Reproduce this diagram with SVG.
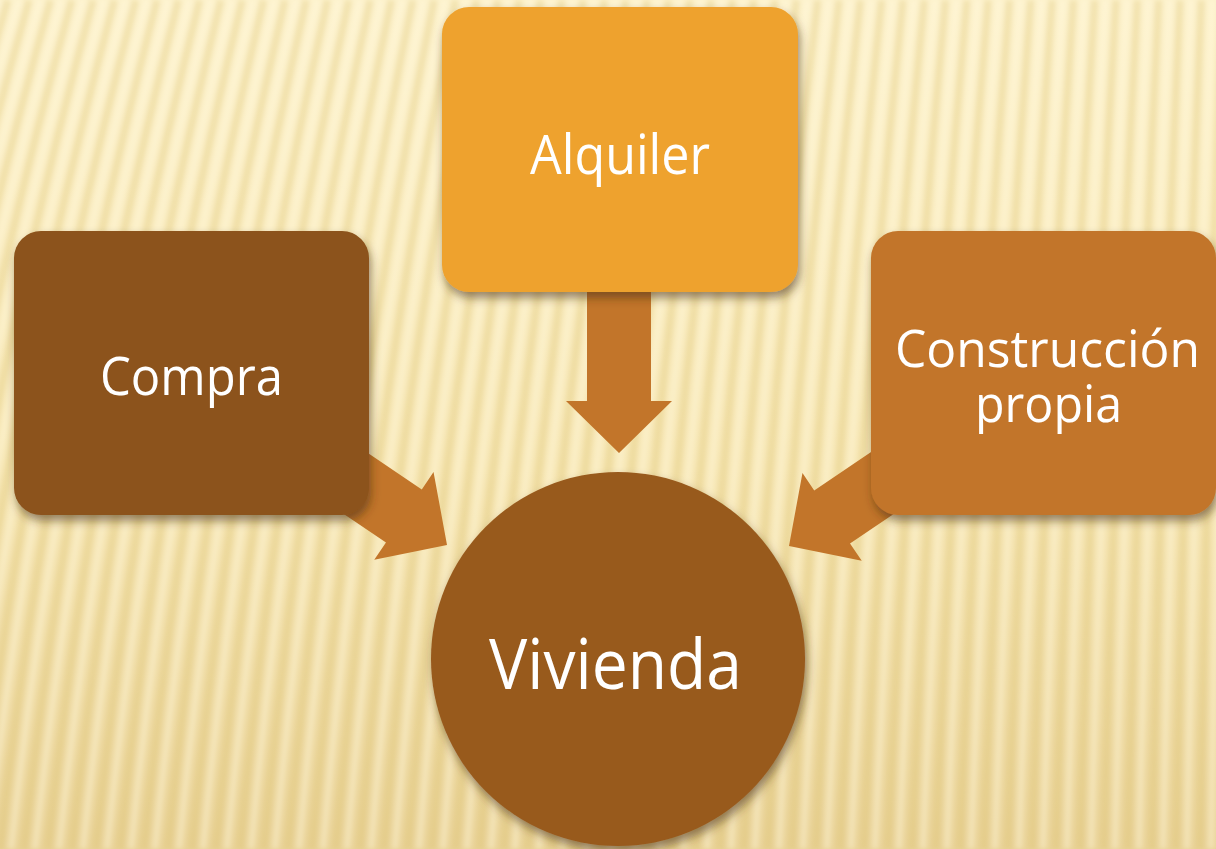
<svg xmlns="http://www.w3.org/2000/svg" xmlns:xlink="http://www.w3.org/1999/xlink" width="1216" height="849" viewBox="0 0 1216 849">
<defs>
<linearGradient id="bg" x1="0" y1="0" x2="0" y2="1">
<stop offset="0" stop-color="#FDF2CB"/>
<stop offset="0.55" stop-color="#F7E7B4"/>
<stop offset="1" stop-color="#E9D296"/>
</linearGradient>
<filter id="blur" x="-5%" y="-5%" width="110%" height="110%"><feGaussianBlur stdDeviation="2.6"/></filter>
<filter id="shadow" x="-10%" y="-10%" width="125%" height="130%">
<feDropShadow dx="2" dy="6" stdDeviation="5" flood-color="#4a3008" flood-opacity="0.55"/>
</filter>
<path id="stripes" d="M-13.5 0Q-138.5 424-192 849M7.8 0Q-115.3 424-168 849M29.1 0Q-92.1 424-144 849M50.4 0Q-68.9 424-120 849M71.8 0Q-45.7 424-96 849M93.1 0Q-22.5 424-72 849M114.4 0Q0.7 424-48 849M135.7 0Q23.9 424-24 849M157 0Q47.1 424 0 849M178.3 0Q70.3 424 24 849M199.6 0Q93.5 424 48 849M220.9 0Q116.7 424 72 849M242.2 0Q139.9 424 96 849M263.6 0Q163.1 424 120 849M284.9 0Q186.3 424 144 849M306.2 0Q209.5 424 168 849M327.5 0Q232.7 424 192 849M348.8 0Q255.9 424 216 849M370.1 0Q279.1 424 240 849M391.4 0Q302.3 424 264 849M412.7 0Q325.5 424 288 849M434.1 0Q348.6 424 312 849M455.4 0Q371.8 424 336 849M476.7 0Q395 424 360 849M498 0Q418.2 424 384 849M519.3 0Q441.4 424 408 849M540.6 0Q464.6 424 432 849M561.9 0Q487.8 424 456 849M583.2 0Q511 424 480 849M604.6 0Q534.2 424 504 849M625.9 0Q557.4 424 528 849M647.2 0Q580.6 424 552 849M668.5 0Q603.8 424 576 849M689.8 0Q627 424 600 849M711.1 0Q650.2 424 624 849M732.4 0Q673.4 424 648 849M753.7 0Q696.6 424 672 849M775 0Q719.8 424 696 849M796.4 0Q743 424 720 849M817.7 0Q766.2 424 744 849M839 0Q789.4 424 768 849M860.3 0Q812.6 424 792 849M881.6 0Q835.8 424 816 849M902.9 0Q859 424 840 849M924.2 0Q882.2 424 864 849M945.5 0Q905.4 424 888 849M966.9 0Q928.5 424 912 849M988.2 0Q951.7 424 936 849M1009.5 0Q974.9 424 960 849M1030.8 0Q998.1 424 984 849M1052.1 0Q1021.3 424 1008 849M1073.4 0Q1044.5 424 1032 849M1094.7 0Q1067.7 424 1056 849M1116 0Q1090.9 424 1080 849M1137.4 0Q1114.1 424 1104 849M1158.7 0Q1137.3 424 1128 849M1180 0Q1160.5 424 1152 849M1201.3 0Q1183.7 424 1176 849M1222.6 0Q1206.9 424 1200 849M1243.9 0Q1230.1 424 1224 849"/>
</defs>
<style>
.lbl{font-family:"Open Sans","Noto Sans","Liberation Sans",sans-serif;fill:#ffffff;text-anchor:middle}
.arrow{fill:#C2752A}
.dark{fill:none;stroke:#DCBF72;stroke-width:8;stroke-opacity:0.3}
.light{fill:none;stroke:#FFF9DE;stroke-width:7;stroke-opacity:0.42}
</style>
<g id="background">
<rect x="0" y="0" width="1216" height="849" fill="url(#bg)"/>
<g filter="url(#blur)">
<use xlink:href="#stripes" class="dark"/>
<use xlink:href="#stripes" class="light" transform="translate(11,0)"/>
</g>
</g>
<g id="connectors">
<polygon class="arrow" transform="translate(447,545) rotate(34)" points="0,0 -52,-53 -52,-32 -150,-32 -150,32 -52,32 -52,53"/>
<polygon class="arrow" transform="translate(619,453) rotate(90)" points="0,0 -52,-53 -52,-32 -200,-32 -200,32 -52,32 -52,53"/>
<polygon class="arrow" transform="translate(789,546) rotate(146)" points="0,0 -52,-53 -52,-32 -150,-32 -150,32 -52,32 -52,53"/>
</g>
<g id="node-alquiler">
<rect x="442" y="7" width="356" height="285" rx="27" fill="#EEA22F" filter="url(#shadow)"/>
<text class="lbl" x="620" y="174" font-size="54" textLength="180" lengthAdjust="spacingAndGlyphs">Alquiler</text>
</g>
<g id="node-compra">
<rect x="14" y="231" width="355" height="284" rx="27" fill="#8C531B" filter="url(#shadow)"/>
<text class="lbl" x="191.5" y="395" font-size="53" textLength="183" lengthAdjust="spacingAndGlyphs">Compra</text>
</g>
<g id="node-construccion">
<rect x="871" y="231" width="345" height="284" rx="27" fill="#C2752A" filter="url(#shadow)"/>
<text class="lbl" x="1047.5" y="367" font-size="52" textLength="305" lengthAdjust="spacingAndGlyphs">Construcción</text>
<text class="lbl" x="1048.5" y="422" font-size="52" textLength="147" lengthAdjust="spacingAndGlyphs">propia</text>
</g>
<g id="node-vivienda">
<circle cx="618" cy="659" r="187" fill="#985A1E" filter="url(#shadow)"/>
<text class="lbl" x="615.5" y="689" font-size="69" textLength="253" lengthAdjust="spacingAndGlyphs">Vivienda</text>
</g>
</svg>
